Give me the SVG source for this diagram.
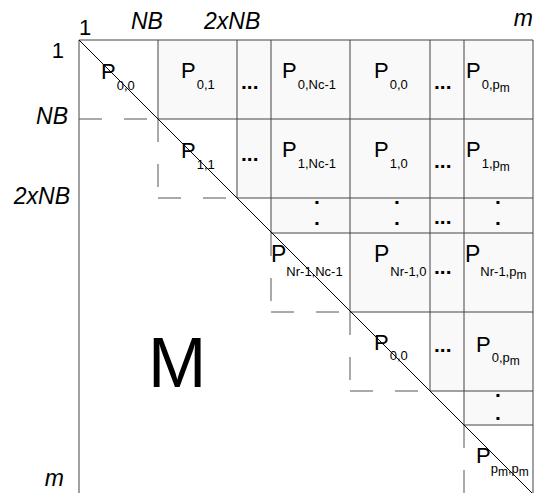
<svg xmlns="http://www.w3.org/2000/svg" width="537" height="493" viewBox="0 0 537 493">
<style>
text{font-family:"Liberation Sans",Arial,sans-serif;fill:#000}
.ax{font-size:23px;font-style:italic}
.num{font-size:22px}
.p{font-size:22px}
.p3{font-size:23px}
.s{font-size:13px}
.ss{font-size:12px}
.dots{font-size:21px;font-weight:bold}
.g{stroke:#444;stroke-width:1;fill:none}
.d{stroke:#555;stroke-width:1;fill:none;stroke-dasharray:23 22}
.diag{stroke:#000;stroke-width:1}
</style>
<rect width="537" height="493" fill="#fff"/>
<path id="shade" d="M158,40 H533 V425 H464 V391 H430 V312 H350 V233 H271 V198 H237 V119 H158 Z" fill="#f9f9f9"/>
<g id="connectors">
<path class="g" d="M79,40 H533 M79,40 V493 M533,40 V493 M158,40 V119 M237,40 V198 M271,40 V233 M350,40 V312 M430,40 V391 M464,40 V425 M158,119 H533 M237,198 H533 M271,233 H533 M350,312 H533 M430,391 H533 M464,425 H533"/>
<path class="d" d="M79,119 H158 M158,119 V198 M158,198 H237 M271,233 V312 M271,312 H350 M350,312 V391 M350,391 H430 M464,425 V493"/>
<line class="diag" x1="79" y1="40" x2="533" y2="494"/>
</g>
<g id="axes">
<text class="num" x="79" y="35">1</text>
<text class="ax" x="131" y="29">NB</text>
<text class="ax" x="204" y="29">2xNB</text>
<text class="ax" x="533" y="26" text-anchor="end">m</text>
<text class="num" x="64" y="58" text-anchor="end">1</text>
<text class="ax" x="68" y="124" text-anchor="end">NB</text>
<text class="ax" x="70" y="204" text-anchor="end">2xNB</text>
<text class="ax" x="64" y="486" text-anchor="end">m</text>
</g>
<g id="M"><text x="148" y="387" font-size="70">M</text></g>
<g id="n00"><text class="p" x="101" y="79">P<tspan class="s" dx="1" dy="11">0,0</tspan></text></g>
<g id="n01"><text class="p" x="181" y="78">P<tspan class="s" dx="1" dy="11">0,1</tspan></text></g>
<g id="n0nc"><text class="p" x="282" y="78">P<tspan class="s" dx="1" dy="11">0,Nc-1</tspan></text></g>
<g id="n00b"><text class="p" x="374" y="78">P<tspan class="s" dx="1" dy="11">0,0</tspan></text></g>
<g id="n0pm"><text class="p" x="466" y="78">P<tspan class="s" dx="1" dy="11">0,p</tspan><tspan class="ss" dy="3">m</tspan></text></g>
<g id="n11"><text class="p" x="181" y="158">P<tspan class="s" dx="1" dy="11">1,1</tspan></text></g>
<g id="n1nc"><text class="p" x="282" y="157">P<tspan class="s" dx="1" dy="11">1,Nc-1</tspan></text></g>
<g id="n10"><text class="p" x="374" y="157">P<tspan class="s" dx="1" dy="11">1,0</tspan></text></g>
<g id="n1pm"><text class="p" x="466" y="157">P<tspan class="s" dx="1" dy="11">1,p</tspan><tspan class="ss" dy="3">m</tspan></text></g>
<g id="nr1nc"><text class="p3" x="271" y="262">P<tspan class="s" dx="0" dy="14">Nr-1,Nc-1</tspan></text></g>
<g id="nr10"><text class="p3" x="374" y="262">P<tspan class="s" dx="1" dy="14">Nr-1,0</tspan></text></g>
<g id="nr1pm"><text class="p3" x="465" y="262">P<tspan class="s" dx="0" dy="14">Nr-1,p</tspan><tspan class="ss" dy="3">m</tspan></text></g>
<g id="n00c"><text class="p" x="374" y="350">P<tspan class="s" dx="1" dy="10">0,0</tspan></text></g>
<g id="n0pmb"><text class="p" x="476" y="352">P<tspan class="s" dx="1" dy="10">0,p</tspan><tspan class="ss" dy="3">m</tspan></text></g>
<g id="npmpm"><text class="p" x="476" y="463">P<tspan class="s" dx="0" dy="10">p</tspan><tspan class="ss" dy="3">m</tspan><tspan class="s" dy="-3">,p</tspan><tspan class="ss" dy="3">m</tspan></text></g>
<g id="ellipses">
<text class="dots" x="241" y="89">...</text>
<text class="dots" x="241" y="161">...</text>
<text class="dots" x="434" y="89">...</text>
<text class="dots" x="434" y="168">...</text>
<text class="dots" x="434" y="224">...</text>
<text class="dots" x="434" y="274">...</text>
<text class="dots" x="434" y="352">...</text>
<text class="dots" x="317" y="204" text-anchor="middle">.</text>
<text class="dots" x="317" y="225" text-anchor="middle">.</text>
<text class="dots" x="397" y="204" text-anchor="middle">.</text>
<text class="dots" x="397" y="225" text-anchor="middle">.</text>
<text class="dots" x="498" y="204" text-anchor="middle">.</text>
<text class="dots" x="498" y="225" text-anchor="middle">.</text>
<text class="dots" x="498" y="397" text-anchor="middle">.</text>
<text class="dots" x="498" y="420" text-anchor="middle">.</text>
</g>
</svg>
